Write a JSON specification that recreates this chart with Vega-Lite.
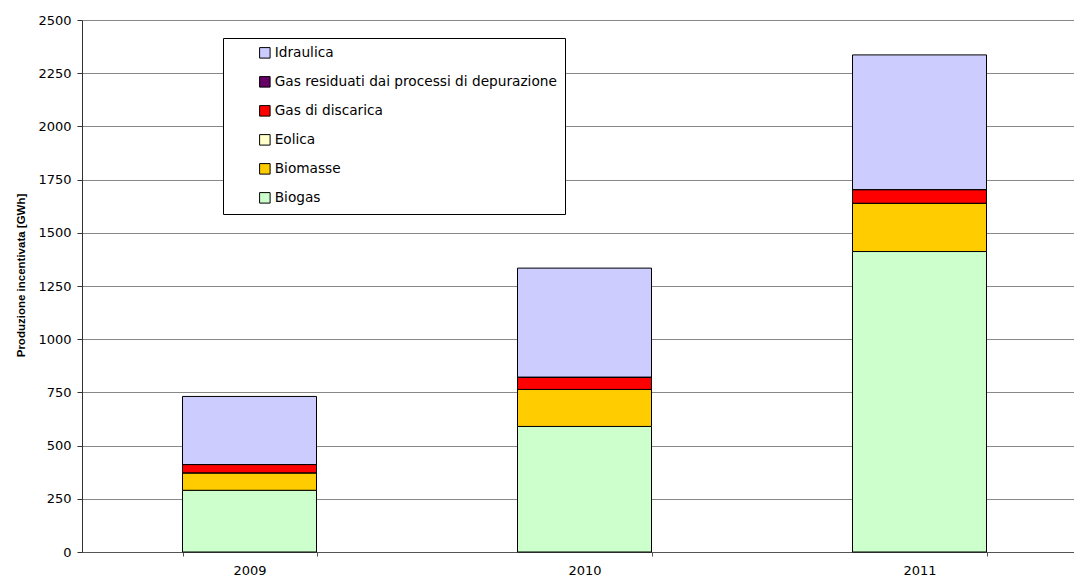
{
  "$schema": "https://vega.github.io/schema/vega-lite/v6.json",
  "width": 992,
  "height": 532,
  "autosize": {"type": "none"},
  "padding": {"left": 82, "top": 20, "right": 0, "bottom": 28},
  "background": "white",
  "config": {"view": {"stroke": null}},
  "data": {
    "values": [
      {"year": "2009", "source": "Biogas", "value": 290},
      {"year": "2009", "source": "Biomasse", "value": 82},
      {"year": "2009", "source": "Eolica", "value": 0},
      {"year": "2009", "source": "Gas di discarica", "value": 39},
      {"year": "2009", "source": "Gas residuati dai processi di depurazione", "value": 0},
      {"year": "2009", "source": "Idraulica", "value": 320},
      {"year": "2010", "source": "Biogas", "value": 590},
      {"year": "2010", "source": "Biomasse", "value": 174},
      {"year": "2010", "source": "Eolica", "value": 0},
      {"year": "2010", "source": "Gas di discarica", "value": 58},
      {"year": "2010", "source": "Gas residuati dai processi di depurazione", "value": 0},
      {"year": "2010", "source": "Idraulica", "value": 512},
      {"year": "2011", "source": "Biogas", "value": 1412},
      {"year": "2011", "source": "Biomasse", "value": 227},
      {"year": "2011", "source": "Eolica", "value": 0},
      {"year": "2011", "source": "Gas di discarica", "value": 64},
      {"year": "2011", "source": "Gas residuati dai processi di depurazione", "value": 0},
      {"year": "2011", "source": "Idraulica", "value": 633}
    ]
  },
  "mark": {"type": "bar", "stroke": "#000000", "strokeWidth": 1},
  "encoding": {
    "x": {
      "field": "year",
      "type": "nominal",
      "scale": {"range": [0, 1005], "paddingInner": 0.6, "paddingOuter": 0.3},
      "axis": {
        "title": null,
        "labelAngle": 0,
        "labelFont": "DejaVu Sans",
        "labelFontSize": 13,
        "labelColor": "#000000",
        "labelPadding": 8,
        "tickBand": "extent",
        "tickSize": 4,
        "tickColor": "#555555",
        "domainColor": "#555555",
        "grid": false
      }
    },
    "y": {
      "field": "value",
      "type": "quantitative",
      "stack": "zero",
      "scale": {"domain": [0, 2500], "nice": false},
      "axis": {
        "title": "Produzione incentivata [GWh]",
        "titleFont": "Liberation Sans",
        "titleFontSize": 11.5,
        "titleFontWeight": "bold",
        "titleColor": "#000000",
        "titlePadding": 11,
        "titleY": 255,
        "values": [0, 250, 500, 750, 1000, 1250, 1500, 1750, 2000, 2250, 2500],
        "format": "d",
        "labelFont": "DejaVu Sans",
        "labelFontSize": 13,
        "labelColor": "#000000",
        "labelPadding": 6,
        "tickSize": 5,
        "tickColor": "#333333",
        "domainColor": "#333333",
        "gridColor": "#888888",
        "gridOpacity": 1
      }
    },
    "color": {
      "field": "source",
      "type": "nominal",
      "scale": {
        "domain": ["Idraulica", "Gas residuati dai processi di depurazione", "Gas di discarica", "Eolica", "Biomasse", "Biogas"],
        "range": ["#CCCCFF", "#660066", "#FF0000", "#FFFFCC", "#FFCC00", "#CCFFCC"]
      },
      "legend": {
        "title": null,
        "orient": "none",
        "legendX": 141,
        "legendY": 18,
        "direction": "vertical",
        "symbolType": "square",
        "symbolSize": 110,
        "symbolStrokeColor": "#000000",
        "symbolStrokeWidth": 1,
        "labelFont": "DejaVu Sans",
        "labelFontSize": 13.7,
        "labelColor": "#000000",
        "labelOffset": 3,
        "labelLimit": 400,
        "rowPadding": 13,
        "padding": 8,
        "symbolOffset": 27,
        "strokeColor": "#000000",
        "fillColor": "#FFFFFF"
      }
    },
    "order": {"field": "source", "sort": "ascending"}
  }
}
